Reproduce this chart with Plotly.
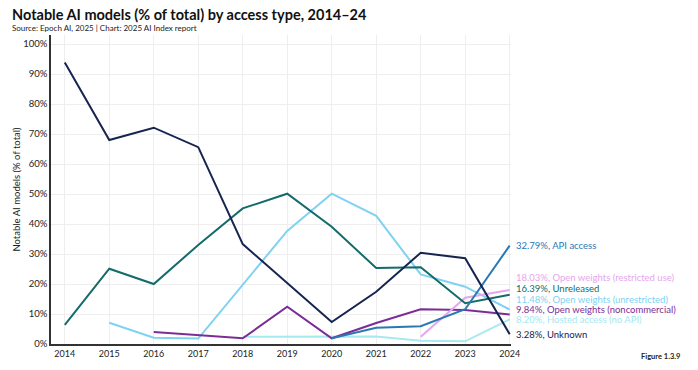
import plotly.graph_objects as go

years = list(range(2014, 2025))

series_names = [
    "API access",
    "Open weights (restricted use)",
    "Unreleased",
    "Open weights (unrestricted)",
    "Open weights (noncommercial)",
    "Hosted access (no API)",
    "Unknown",
]

api_access = [None, None, None, None, None, None, 1.9, 5.4, 5.9, 11.6, 32.79]
open_restricted = [None, None, None, None, None, None, None, None, 2.4, 15.4, 18.03]
unreleased = [6.4, 25.1, 20.0, 33.0, 45.2, 50.1, 39.1, 25.3, 25.6, 13.6, 16.39]
open_unrestricted = [None, 7.1, 2.1, 1.8, 19.7, 37.7, 50.1, 42.7, 23.2, 19.1, 11.48]
open_noncommercial = [None, None, 4.0, 2.9, 1.9, 12.4, 1.9, 7.0, 11.6, 11.3, 9.84]
hosted_access = [None, None, None, None, 2.4, 2.5, 2.4, 2.5, 1.1, 0.9, 8.20]
unknown = [93.8, 68.0, 72.1, 65.6, 33.3, 20.3, 7.3, 17.4, 30.4, 28.6, 3.28]

values = [api_access, open_restricted, unreleased, open_unrestricted,
          open_noncommercial, hosted_access, unknown]

colors = ["#2a78b4", "#e6a6ee", "#146b6b", "#7fd2f2", "#7b2d96", "#a6e9f0", "#17244f"]
label_y = [32.8, 22.2, 18.6, 15.0, 11.6, 8.1, 3.1]

FONT = "Lato, 'DejaVu Sans', sans-serif"

# plot area in pixels (for placing figure-level texts)
L, R, T, B, W, H = 51, 187, 35, 26, 698, 370
PW, PH = W - L - R, H - T - B


def px_x(x):
    return (x - L) / PW


def px_y(y):
    return (H - B - y) / PH


fig = go.Figure()
draw_order = [5, 3, 4, 1, 2, 0, 6]
for i in draw_order:
    fig.add_trace(go.Scatter(
        x=years, y=values[i], mode="lines", name=series_names[i],
        line=dict(color=colors[i], width=2),
        connectgaps=False, showlegend=False, hoverinfo="x+y+name",
    ))

for i, name in enumerate(series_names):
    last = values[i][-1]
    fig.add_annotation(
        x=years[-1], y=label_y[i], xref="x", yref="y",
        text=f"{last:.2f}%, {name}", showarrow=False,
        xanchor="left", yanchor="middle", xshift=4,
        font=dict(family=FONT, size=9.5, color=colors[i]),
    )

fig.add_annotation(
    x=px_x(10), y=px_y(4), xref="paper", yref="paper", xanchor="left", yanchor="top",
    text="<b>Notable AI models (% of total) by access type, 2014–24</b>",
    showarrow=False, font=dict(family=FONT, size=14.5, color="#111111"),
)
fig.add_annotation(
    x=px_x(10), y=px_y(21), xref="paper", yref="paper", xanchor="left", yanchor="top",
    text="Source: Epoch AI, 2025 | Chart: 2025 AI Index report",
    showarrow=False, font=dict(family=FONT, size=8, color="#222222"),
)
fig.add_annotation(
    x=px_x(682), y=px_y(363), xref="paper", yref="paper", xanchor="right", yanchor="bottom",
    text="<b>Figure 1.3.9</b>",
    showarrow=False, font=dict(family=FONT, size=7.5, color="#222222"),
)

fig.update_layout(
    width=W, height=H,
    margin=dict(l=L, r=R, t=T, b=B),
    paper_bgcolor="white", plot_bgcolor="white",
    font=dict(family=FONT, size=9, color="#222222"),
    xaxis=dict(
        range=[2013.69, 2024.03], tickmode="array", tickvals=years,
        ticktext=[str(y) for y in years], showgrid=True, gridcolor="#eeeeee",
        gridwidth=1, zeroline=False, showline=True, linecolor="#333333",
        linewidth=1.5, ticks="", tickfont=dict(size=9, color="#222222"),
    ),
    yaxis=dict(
        range=[0, 103], tickvals=list(range(0, 101, 10)),
        ticktext=[f"{v}%" for v in range(0, 101, 10)],
        showgrid=True, gridcolor="#eeeeee", zeroline=False,
        showline=True, linecolor="#333333", linewidth=1.5, ticks="",
        tickfont=dict(size=9.5, color="#222222"),
        title=dict(text="Notable AI models (% of total)", standoff=1,
                   font=dict(size=9.5, color="#222222")),
    ),
)

fig.write_html(
    "out.html",
    config={"displayModeBar": False},
    post_script="document.body.style.margin='0';document.body.style.overflow='hidden';",
)
